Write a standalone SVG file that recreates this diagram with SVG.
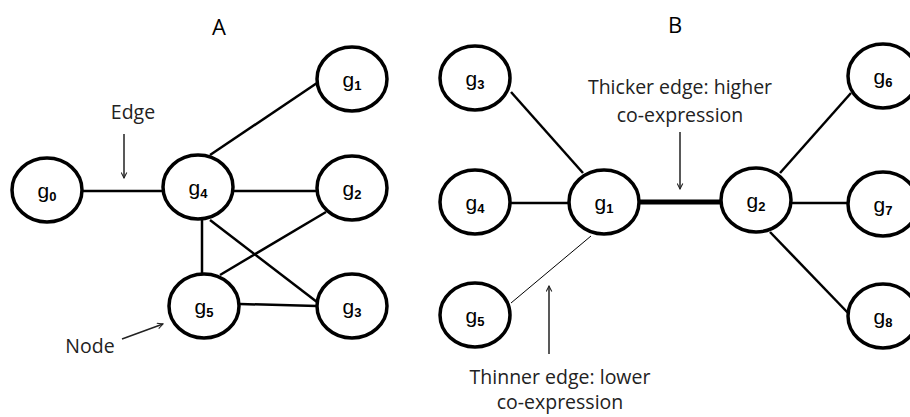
<svg xmlns="http://www.w3.org/2000/svg" width="910" height="417" viewBox="0 0 910 417">
<style>
.node{fill:#fff;stroke:#000;stroke-width:3.5}
.e{stroke:#000;stroke-width:2.5;fill:none}
.lbl{font-family:"Liberation Sans",Arial,sans-serif;font-size:21px;fill:#000;text-anchor:middle}
.sub{font-size:13px;font-weight:bold}
.ann{font-family:"Open Sans","Liberation Sans",sans-serif;font-size:19.5px;fill:#222;text-anchor:middle}
.ttl{font-family:"Open Sans","Liberation Sans",sans-serif;font-size:22px;fill:#000;text-anchor:middle}
.arr{stroke:#222;stroke-width:1.5;fill:none;marker-end:url(#ah)}
</style>
<defs>
<marker id="ah" viewBox="0 0 10 10" refX="9" refY="5" markerWidth="7" markerHeight="7" orient="auto" markerUnits="userSpaceOnUse">
<path d="M1,1 L9,5 L1,9" fill="none" stroke="#222" stroke-width="1.5"/>
</marker>
</defs>
<rect width="910" height="417" fill="#fff"/>
<text class="ttl" x="219" y="35">A</text>
<text class="ttl" x="675" y="33">B</text>
<g id="connectors">
<line class="e" x1="82" y1="191" x2="163" y2="191"/>
<line class="e" x1="210" y1="155" x2="317" y2="83"/>
<line class="e" x1="233" y1="191" x2="317" y2="191"/>
<line class="e" x1="202" y1="220" x2="202" y2="274"/>
<line class="e" x1="210" y1="220" x2="317" y2="302"/>
<line class="e" x1="326" y1="212" x2="220" y2="275"/>
<line class="e" x1="240" y1="304" x2="317" y2="306"/>
<line class="e" x1="511" y1="92" x2="583" y2="173"/>
<line class="e" x1="511" y1="203" x2="569" y2="203"/>
<line class="e" x1="639" y1="202" x2="721" y2="202" style="stroke-width:5"/>
<line class="e" x1="591" y1="236" x2="511" y2="303" style="stroke-width:1"/>
<line class="e" x1="780" y1="173" x2="851" y2="93"/>
<line class="e" x1="791" y1="203" x2="849" y2="203"/>
<line class="e" x1="770" y1="232" x2="849" y2="314"/>
<line class="arr" x1="124" y1="134" x2="124" y2="178"/>
<line class="arr" x1="122" y1="339" x2="163" y2="324"/>
<line class="arr" x1="680" y1="132" x2="680" y2="189"/>
<line class="arr" x1="549" y1="354" x2="549" y2="286"/>
</g>
<text class="ann" x="133" y="119">Edge</text>
<text class="ann" x="90" y="353">Node</text>
<text class="ann" x="680" y="94">Thicker edge: higher</text>
<text class="ann" x="680" y="122">co-expression</text>
<text class="ann" x="560" y="384">Thinner edge: lower</text>
<text class="ann" x="560" y="409">co-expression</text>
<g id="A_g0"><ellipse class="node" cx="47" cy="190" rx="35" ry="32"/><text class="lbl" x="47" y="198">g<tspan class="sub" dy="3">0</tspan></text></g>
<g id="A_g1"><ellipse class="node" cx="352" cy="79" rx="35" ry="32"/><text class="lbl" x="352" y="87">g<tspan class="sub" dy="3">1</tspan></text></g>
<g id="A_g2"><ellipse class="node" cx="352" cy="188" rx="35" ry="32"/><text class="lbl" x="352" y="196">g<tspan class="sub" dy="3">2</tspan></text></g>
<g id="A_g3"><ellipse class="node" cx="352" cy="306" rx="35" ry="32"/><text class="lbl" x="352" y="314">g<tspan class="sub" dy="3">3</tspan></text></g>
<g id="A_g4"><ellipse class="node" cx="198" cy="187" rx="35" ry="32"/><text class="lbl" x="198" y="195">g<tspan class="sub" dy="3">4</tspan></text></g>
<g id="A_g5"><ellipse class="node" cx="204" cy="306" rx="35" ry="32"/><text class="lbl" x="204" y="314">g<tspan class="sub" dy="3">5</tspan></text></g>
<g id="B_g3"><ellipse class="node" cx="475" cy="78" rx="35" ry="32"/><text class="lbl" x="475" y="86">g<tspan class="sub" dy="3">3</tspan></text></g>
<g id="B_g4"><ellipse class="node" cx="475" cy="202" rx="35" ry="32"/><text class="lbl" x="475" y="210">g<tspan class="sub" dy="3">4</tspan></text></g>
<g id="B_g5"><ellipse class="node" cx="475" cy="315" rx="35" ry="32"/><text class="lbl" x="475" y="323">g<tspan class="sub" dy="3">5</tspan></text></g>
<g id="B_g1"><ellipse class="node" cx="604" cy="202" rx="35" ry="32"/><text class="lbl" x="604" y="210">g<tspan class="sub" dy="3">1</tspan></text></g>
<g id="B_g2"><ellipse class="node" cx="756" cy="200" rx="35" ry="32"/><text class="lbl" x="756" y="208">g<tspan class="sub" dy="3">2</tspan></text></g>
<g id="B_g6"><ellipse class="node" cx="883" cy="76" rx="35" ry="32"/><text class="lbl" x="883" y="84">g<tspan class="sub" dy="3">6</tspan></text></g>
<g id="B_g7"><ellipse class="node" cx="883" cy="204" rx="35" ry="32"/><text class="lbl" x="883" y="212">g<tspan class="sub" dy="3">7</tspan></text></g>
<g id="B_g8"><ellipse class="node" cx="883" cy="316" rx="35" ry="32"/><text class="lbl" x="883" y="324">g<tspan class="sub" dy="3">8</tspan></text></g>
</svg>
